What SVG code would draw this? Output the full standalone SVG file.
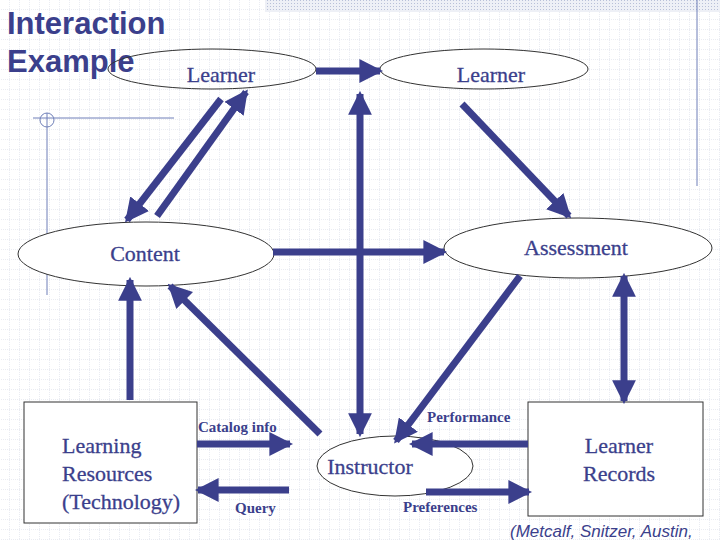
<svg xmlns="http://www.w3.org/2000/svg" width="720" height="540" viewBox="0 0 720 540">
<defs>
<pattern id="grid" width="10" height="10" patternUnits="userSpaceOnUse"><path d="M10 0V10H0" fill="none" stroke="#d4d8e4" stroke-width="1" stroke-dasharray="1 1"/></pattern>
<pattern id="hatch" width="3" height="3" patternUnits="userSpaceOnUse"><rect width="3" height="3" fill="#eef0f6"/><rect width="1" height="1" fill="#b8c0d8"/></pattern>
<marker id="ah" viewBox="0 0 3 3" refX="2.6" refY="1.5" markerWidth="3.4" markerHeight="3.4" orient="auto-start-reverse" markerUnits="strokeWidth"><path d="M0 0L3 1.5L0 3Z" fill="#3b3f8c"/></marker>
</defs>
<style>
.n{fill:none;stroke:#3b3f8c;stroke-width:7}
.e{fill:#fff;stroke:#333;stroke-width:1}
.t{font-family:"Liberation Serif",serif;font-size:22px;fill:#3b3f8c;stroke:#3b3f8c;stroke-width:0.3}
.s{font-family:"Liberation Serif",serif;font-size:15px;font-weight:bold;fill:#3b3f8c}
.d{stroke:#6f7fb8;stroke-width:1;fill:none}
</style>
<rect width="720" height="540" fill="#fff"/>
<rect width="720" height="540" fill="url(#grid)"/>
<rect x="265" y="0" width="455" height="12" fill="url(#hatch)"/>
<g id="deco">
<line class="d" x1="697" y1="0" x2="697" y2="186"/>
<line class="d" x1="47" y1="113" x2="47" y2="295"/>
<line class="d" x1="33" y1="118" x2="174" y2="118"/>
<circle class="d" cx="47" cy="120" r="7"/>
</g>
<text x="7" y="34" font-family="Liberation Sans,sans-serif" font-size="31" font-weight="bold" fill="#3b3f8c">Interaction</text>
<text x="7" y="72" font-family="Liberation Sans,sans-serif" font-size="31" font-weight="bold" fill="#3b3f8c">Example</text>
<g id="learner1"><ellipse class="e" cx="212" cy="69" rx="104" ry="20" fill-opacity="0"/><text class="t" x="221" y="82" text-anchor="middle">Learner</text></g>
<g id="learner2"><ellipse class="e" cx="484" cy="69" rx="104" ry="20"/><text class="t" x="491" y="82" text-anchor="middle">Learner</text></g>
<g id="content"><ellipse class="e" cx="146" cy="254" rx="128" ry="32"/><text class="t" x="145" y="261" text-anchor="middle">Content</text></g>
<g id="assessment"><ellipse class="e" cx="578" cy="248" rx="134" ry="30"/><text class="t" x="576" y="255" text-anchor="middle">Assessment</text></g>
<g id="instructor"><ellipse class="e" cx="395" cy="466" rx="78" ry="30"/><text class="t" x="370" y="474" text-anchor="middle">Instructor</text></g>
<g id="resources"><rect class="e" x="24" y="402" width="173" height="121"/><text class="t" x="62" y="453">Learning</text><text class="t" x="62" y="481">Resources</text><text class="t" x="62" y="509">(Technology)</text></g>
<g id="records"><rect class="e" x="528" y="402" width="175" height="114"/><text class="t" x="619" y="453" text-anchor="middle">Learner</text><text class="t" x="619" y="481" text-anchor="middle">Records</text></g>
<g id="connectors">
<line class="n" x1="316" y1="71" x2="380" y2="71" marker-end="url(#ah)"/>
<line class="n" x1="221" y1="99" x2="127" y2="220" marker-end="url(#ah)"/>
<line class="n" x1="157" y1="216" x2="246" y2="92" marker-end="url(#ah)"/>
<line class="n" x1="462" y1="104" x2="569" y2="216" marker-end="url(#ah)"/>
<line class="n" x1="273" y1="252" x2="444" y2="252" marker-end="url(#ah)"/>
<line class="n" x1="360" y1="94" x2="360" y2="434" marker-start="url(#ah)" marker-end="url(#ah)"/>
<line class="n" x1="520" y1="276" x2="396" y2="441" marker-end="url(#ah)"/>
<line class="n" x1="624" y1="276" x2="624" y2="401" marker-start="url(#ah)" marker-end="url(#ah)"/>
<line class="n" x1="130" y1="400" x2="130" y2="280" marker-end="url(#ah)"/>
<line class="n" x1="320" y1="434" x2="170" y2="286" marker-end="url(#ah)"/>
<line class="n" x1="197" y1="444" x2="290" y2="444" marker-end="url(#ah)"/>
<line class="n" x1="289" y1="490" x2="198" y2="490" marker-end="url(#ah)"/>
<line class="n" x1="528" y1="444" x2="412" y2="444" marker-end="url(#ah)"/>
<line class="n" x1="426" y1="492" x2="529" y2="492" marker-end="url(#ah)"/>
</g>
<text class="s" x="198" y="432">Catalog info</text>
<text class="s" x="235" y="513">Query</text>
<text class="s" x="427" y="422">Performance</text>
<text class="s" x="403" y="512">Preferences</text>
<text x="510" y="537" font-family="Liberation Sans,sans-serif" font-size="17" font-style="italic" fill="#3b3f8c">(Metcalf, Snitzer, Austin,</text>
</svg>
